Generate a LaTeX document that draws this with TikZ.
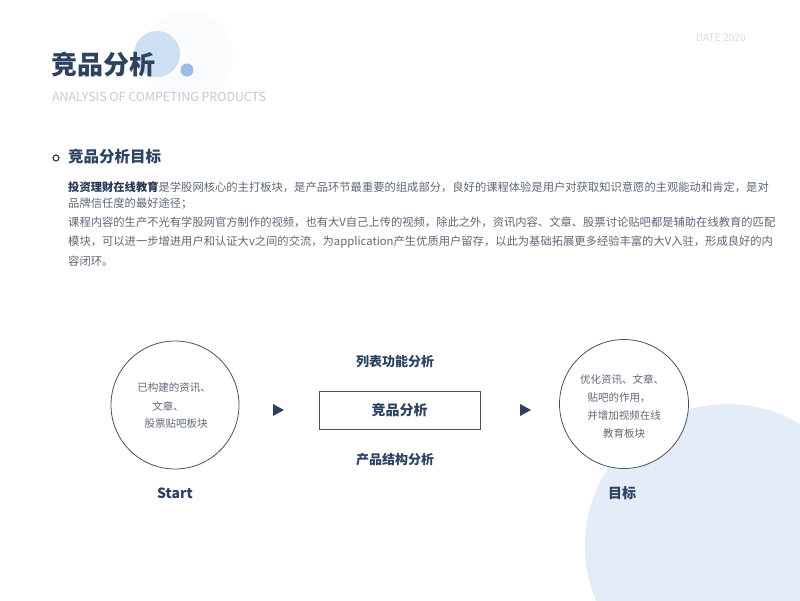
\documentclass[tikz,border=0pt]{standalone}
\usepackage{fontspec}
\newfontfamily\cjk{Noto Sans CJK SC}
\definecolor{navy}{HTML}{2E4260}
\definecolor{bodygray}{HTML}{5F6877}
\definecolor{subgray}{HTML}{C5CAD3}
\definecolor{datec}{HTML}{D3DEED}
\definecolor{lblue}{HTML}{CDDFF3}
\definecolor{dotblue}{HTML}{9DBCE5}
\definecolor{bigblue}{HTML}{E4ECF7}
\definecolor{faint}{HTML}{FAFBFD}
\definecolor{ring}{HTML}{44526A}
\tikzset{
  body/.style={anchor=west,inner sep=0,text=bodygray,font=\cjk\fontsize{11.3}{13}\selectfont},
  ctext/.style={inner sep=0,text=bodygray,font=\cjk\fontsize{10.5}{12}\selectfont},
  lab/.style={inner sep=0,text=navy,font=\cjk\bfseries\fontsize{13}{15}\selectfont},
  ring/.style={circle,draw=ring,line width=0.8pt,fill=white},
  tri/.style={fill=navy,draw=none}
}
\begin{document}
\begin{tikzpicture}[x=1pt,y=-1pt]
\useasboundingbox (0,0) rectangle (800,600);
\fill[white] (0,0) rectangle (800,600);
% decorations
\fill[faint] (188,56) circle (45);
\fill[lblue] (157,54) circle (23);
\fill[dotblue] (187,70) circle (6.5);
\begin{scope}
\clip (0,0) rectangle (800,600);
\fill[bigblue] (727,546) circle (142);
\end{scope}
% header
\node[anchor=west,inner sep=0,text=navy,font=\cjk\bfseries\fontsize{26}{30}\selectfont] (title) at (51,65) {竞品分析};
\node[anchor=west,inner sep=0,text=subgray,font=\cjk\fontsize{12.4}{14}\selectfont] (sub) at (52,97) {ANALYSIS OF COMPETING PRODUCTS};
\node[anchor=west,inner sep=0,text=datec,font=\cjk\fontsize{10.2}{12}\selectfont] (date) at (696,38) {DATE 2020};
% section heading
\node[circle,draw=navy,line width=1.2pt,minimum size=6pt,inner sep=0] (bul) at (56,158) {};
\node[anchor=west,inner sep=0,text=navy,font=\cjk\bfseries\fontsize{15.5}{18}\selectfont] (head) at (68,157) {竞品分析目标};
% paragraph
\node[body] (p1) at (68,187) {{\bfseries\color{navy!85!black}投资理财在线教育}是学股网核心的主打板块，是产品环节最重要的组成部分，良好的课程体验是用户对获取知识意愿的主观能动和肯定，是对};
\node[body] (p2) at (68,204) {品牌信任度的最好途径；};
\node[body] (p3) at (68,222) {课程内容的生产不光有学股网官方制作的视频，也有大V自己上传的视频，除此之外，资讯内容、文章、股票讨论贴吧都是辅助在线教育的匹配};
\node[body] (p4) at (68,242) {模块，可以进一步增进用户和认证大v之间的交流，为application产生优质用户留存，以此为基础拓展更多经验丰富的大V入驻，形成良好的内};
\node[body] (p5) at (68,261) {容闭环。};
% flow
\node[ring,minimum size=128pt] (start) at (175,405) {};
\node[ctext] at (174,388) {已构建的资讯、};
\node[ctext] at (168,406) {文章、};
\node[ctext] at (176,424) {股票贴吧板块};
\node[lab,font=\cjk\bfseries\fontsize{14}{16}\selectfont] (startlab) at (175,493) {Start};
\fill[tri] (273,404) -- (284,410) -- (273,416) -- cycle;
\node[draw=ring,line width=0.8pt,minimum width=161pt,minimum height=38pt,inner sep=0,text=navy,font=\cjk\bfseries\fontsize{14}{16}\selectfont] (box) at (399.5,410) {竞品分析};
\node[lab] (l1) at (395,362) {列表功能分析};
\node[lab] (l2) at (395,460) {产品结构分析};
\fill[tri] (520,404) -- (531,410) -- (520,416) -- cycle;
\node[ring,minimum size=129pt] (goal) at (624,404) {};
\node[ctext] at (622,380) {优化资讯、文章、};
\node[ctext] at (619,398) {贴吧的作用，};
\node[ctext] at (624,416) {并增加视频在线};
\node[ctext] at (624,433) {教育板块};
\node[lab,font=\cjk\bfseries\fontsize{14}{16}\selectfont] (goallab) at (622,493) {目标};
\end{tikzpicture}
\end{document}
